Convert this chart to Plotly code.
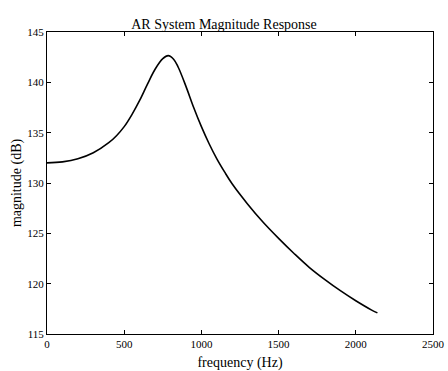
import plotly.graph_objects as go

freq_hz = [0, 100, 200, 300, 400, 450, 500, 550, 600, 650, 700, 750, 785,
           820, 850, 900, 950, 1000, 1050, 1100, 1150, 1200, 1300, 1400,
           1500, 1600, 1700, 1800, 1900, 2000, 2100, 2140]
magnitude_db = [132.0, 132.1, 132.4, 133.0, 134.0, 134.7, 135.6, 136.8, 138.2,
                139.8, 141.3, 142.35, 142.65, 142.3, 141.5, 139.6, 137.5, 135.6,
                133.9, 132.4, 131.1, 129.9, 127.9, 126.1, 124.5, 123.0, 121.6,
                120.4, 119.3, 118.3, 117.4, 117.1]

x_ticks = [0, 500, 1000, 1500, 2000, 2500]
y_ticks = [115, 120, 125, 130, 135, 140, 145]

font_family = "Liberation Serif"

fig = go.Figure()
fig.add_trace(go.Scatter(x=freq_hz, y=magnitude_db, mode="lines",
                         line=dict(color="black", width=1.6, shape="spline", smoothing=1.0),
                         showlegend=False, hoverinfo="skip"))

axis_common = dict(showline=True, linecolor="black", linewidth=1, mirror="ticks",
                   ticks="inside", ticklen=4, tickcolor="black", tickwidth=1,
                   showgrid=False, zeroline=False,
                   tickfont=dict(family=font_family, size=11, color="black"))

fig.update_layout(
    width=448, height=371,
    margin=dict(l=47, r=15, t=32, b=37),
    paper_bgcolor="white", plot_bgcolor="white",
    title=dict(text="AR System Magnitude Response", x=0.5, xanchor="center",
               y=1 - 24/371, yanchor="middle",
               font=dict(family=font_family, size=14, color="black")),
    xaxis=dict(range=[0, 2500], tickvals=x_ticks, ticktext=[str(v) for v in x_ticks],
               title=dict(text="frequency (Hz)", standoff=12,
                          font=dict(family=font_family, size=14, color="black")),
               automargin=False, **axis_common),
    yaxis=dict(range=[115, 145], tickvals=y_ticks, ticktext=[str(v) for v in y_ticks],
               title=dict(text="magnitude (dB)", standoff=2,
                          font=dict(family=font_family, size=14, color="black")),
               automargin=False, **axis_common),
)

fig.write_html("out.html")
